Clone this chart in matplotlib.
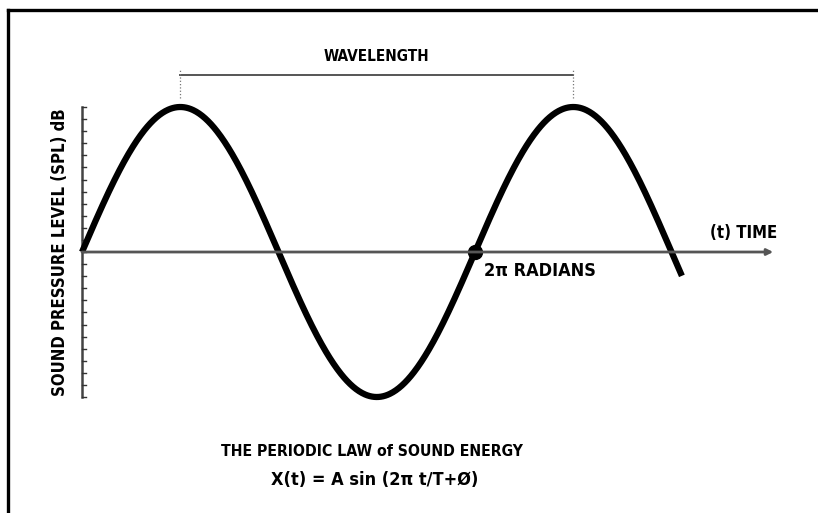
import numpy as np
import matplotlib
matplotlib.use('Agg')
import matplotlib.pyplot as plt

# wave definition (radians / relative amplitude)
AMPLITUDE = 1.0
T_END = 9.59          # where the drawn curve stops
AXIS_END = 11.05      # end of the time arrow
TICK_STEP = 1 / 12    # spacing of the small ticks on the SPL axis
WAVE_START, WAVE_STOP = np.pi / 2, 5 * np.pi / 2   # wavelength bracket, peak to peak
MARK_T = 2 * np.pi

labels = {
    'ylabel': 'SOUND PRESSURE LEVEL (SPL) dB',
    'wavelength': 'WAVELENGTH',
    'time': '(t) TIME',
    'radians': '2π RADIANS',
    'title': 'THE PERIODIC LAW of SOUND ENERGY',
    'formula': 'X(t) = A sin (2π t/T+Ø)',
}

plt.rcParams['font.family'] = ['DejaVu Sans']
plt.rcParams['font.stretch'] = 'condensed'

fig = plt.figure(figsize=(8.18, 5.13), dpi=100)
ax = fig.add_axes([0, 0, 1, 1])
ax.set_xlim(-1.311, 11.766)
ax.set_ylim(-1.80, 1.738)
ax.axis('off')

# outer frame (top + left edge only visible)
fig.add_artist(plt.Line2D([7.5 / 818, 1], [1 - 9.5 / 513] * 2, color='black', lw=2.4))
fig.add_artist(plt.Line2D([7.5 / 818] * 2, [0, 1 - 9.5 / 513], color='black', lw=2.4))

# time axis with arrow
ax.annotate('', xy=(AXIS_END, 0), xytext=(0, 0),
            arrowprops=dict(arrowstyle='-|>', color='#555555', lw=2.0,
                            mutation_scale=9, shrinkA=0, shrinkB=0))

# SPL axis with ticks
ax.plot([0, 0], [-AMPLITUDE, AMPLITUDE], color='#444444', lw=1.8)
ticks = np.arange(-12, 13) * TICK_STEP
for y in ticks:
    ax.plot([0, 0.07], [y, y], color='#333333', lw=1.0)

# the wave
t = np.linspace(0, T_END, 800)
ax.plot(t, AMPLITUDE * np.sin(t), color='black', lw=4.5, solid_capstyle='butt')

# 2π marker
ax.plot([MARK_T], [0], 'o', color='black', ms=10)

# wavelength bracket
yb = 1.22
ax.plot([WAVE_START, WAVE_STOP], [yb, yb], color='#555555', lw=1.4)
for xv in (WAVE_START, WAVE_STOP):
    ax.plot([xv, xv], [1.06, 1.26], color='#777777', lw=0.9, ls=':')

ax.text((WAVE_START + WAVE_STOP) / 2, 1.345, labels['wavelength'], ha='center', va='center',
        fontsize=11, fontweight='bold')
ax.text(-0.35, 0, labels['ylabel'], rotation=90, ha='center', va='center',
        fontsize=12, fontweight='bold')
ax.text(10.57, 0.13, labels['time'], ha='center', va='center', fontsize=12, fontweight='bold')
ax.text(MARK_T + 0.15, -0.13, labels['radians'], ha='left', va='center',
        fontsize=13, fontweight='bold')
ax.text(4.64, -1.377, labels['title'], ha='center', va='center', fontsize=11.3, fontweight='bold')
ax.text(4.68, -1.57, labels['formula'], ha='center', va='center', fontsize=13, fontweight='bold')

fig.savefig('out.png', dpi=100)
